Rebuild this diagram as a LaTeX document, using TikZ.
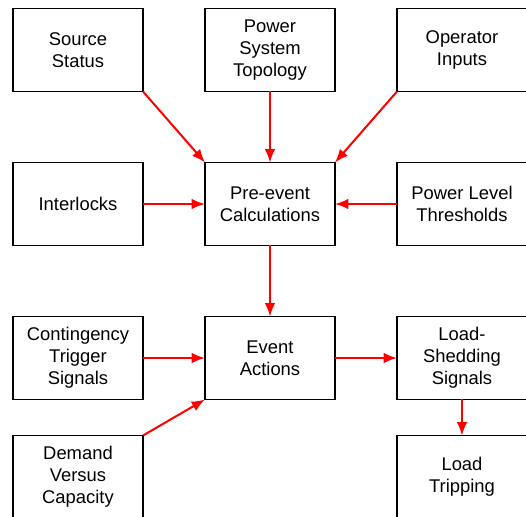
\documentclass[tikz,border=0pt]{standalone}
\usepackage{fontspec}
\setmainfont{Liberation Sans}
\usetikzlibrary{positioning,arrows.meta}

\begin{document}
\begin{tikzpicture}[x=0.75pt, y=-0.75pt, >={Latex[length=10pt,width=8pt]},
  block/.style={draw, line width=1.2pt, minimum width=97.5pt, minimum height=62.25pt,
    align=center, inner sep=0pt, outer sep=0pt, font=\fontsize{13.8}{16.5}\selectfont},
  link/.style={->, red, line width=1.5pt},
  node distance=53.25pt and 46.5pt]
  \clip (0,0) rectangle (526,517);

  % middle column
  \node[block] (prevent) at (270,204) {Pre-event\\Calculations};
  \node[block, above=of prevent] (topology) {Power\\System\\Topology};
  \node[block, below=of prevent] (event) {Event\\Actions};

  % top row
  \node[block, left=of topology] (source) {Source\\Status};
  \node[block, right=of topology] (operator) {Operator\\Inputs};

  % second row
  \node[block, left=of prevent] (interlocks) {Interlocks};
  \node[block, right=of prevent] (thresholds) {Power Level\\Thresholds};

  % third row
  \node[block, left=of event] (contingency) {Contingency\\Trigger\\Signals};
  \node[block, right=of event] (shedding) {Load-\\Shedding\\Signals};

  % bottom row
  \node[block, below=27pt of contingency] (demand) {Demand\\Versus\\Capacity};
  \node[block, below=27pt of shedding] (tripping) {Load\\Tripping};

  % connectors
  \draw[link] (source.south east) -- (prevent.north west);
  \draw[link] (topology) -- (prevent);
  \draw[link] (operator.south west) -- (prevent.north east);
  \draw[link] (interlocks) -- (prevent);
  \draw[link] (thresholds) -- (prevent);
  \draw[link] (prevent) -- (event);
  \draw[link] (contingency) -- (event);
  \draw[link] (demand.north east) -- (event.south west);
  \draw[link] (event) -- (shedding);
  \draw[link] (shedding) -- (tripping);
\end{tikzpicture}
\end{document}
